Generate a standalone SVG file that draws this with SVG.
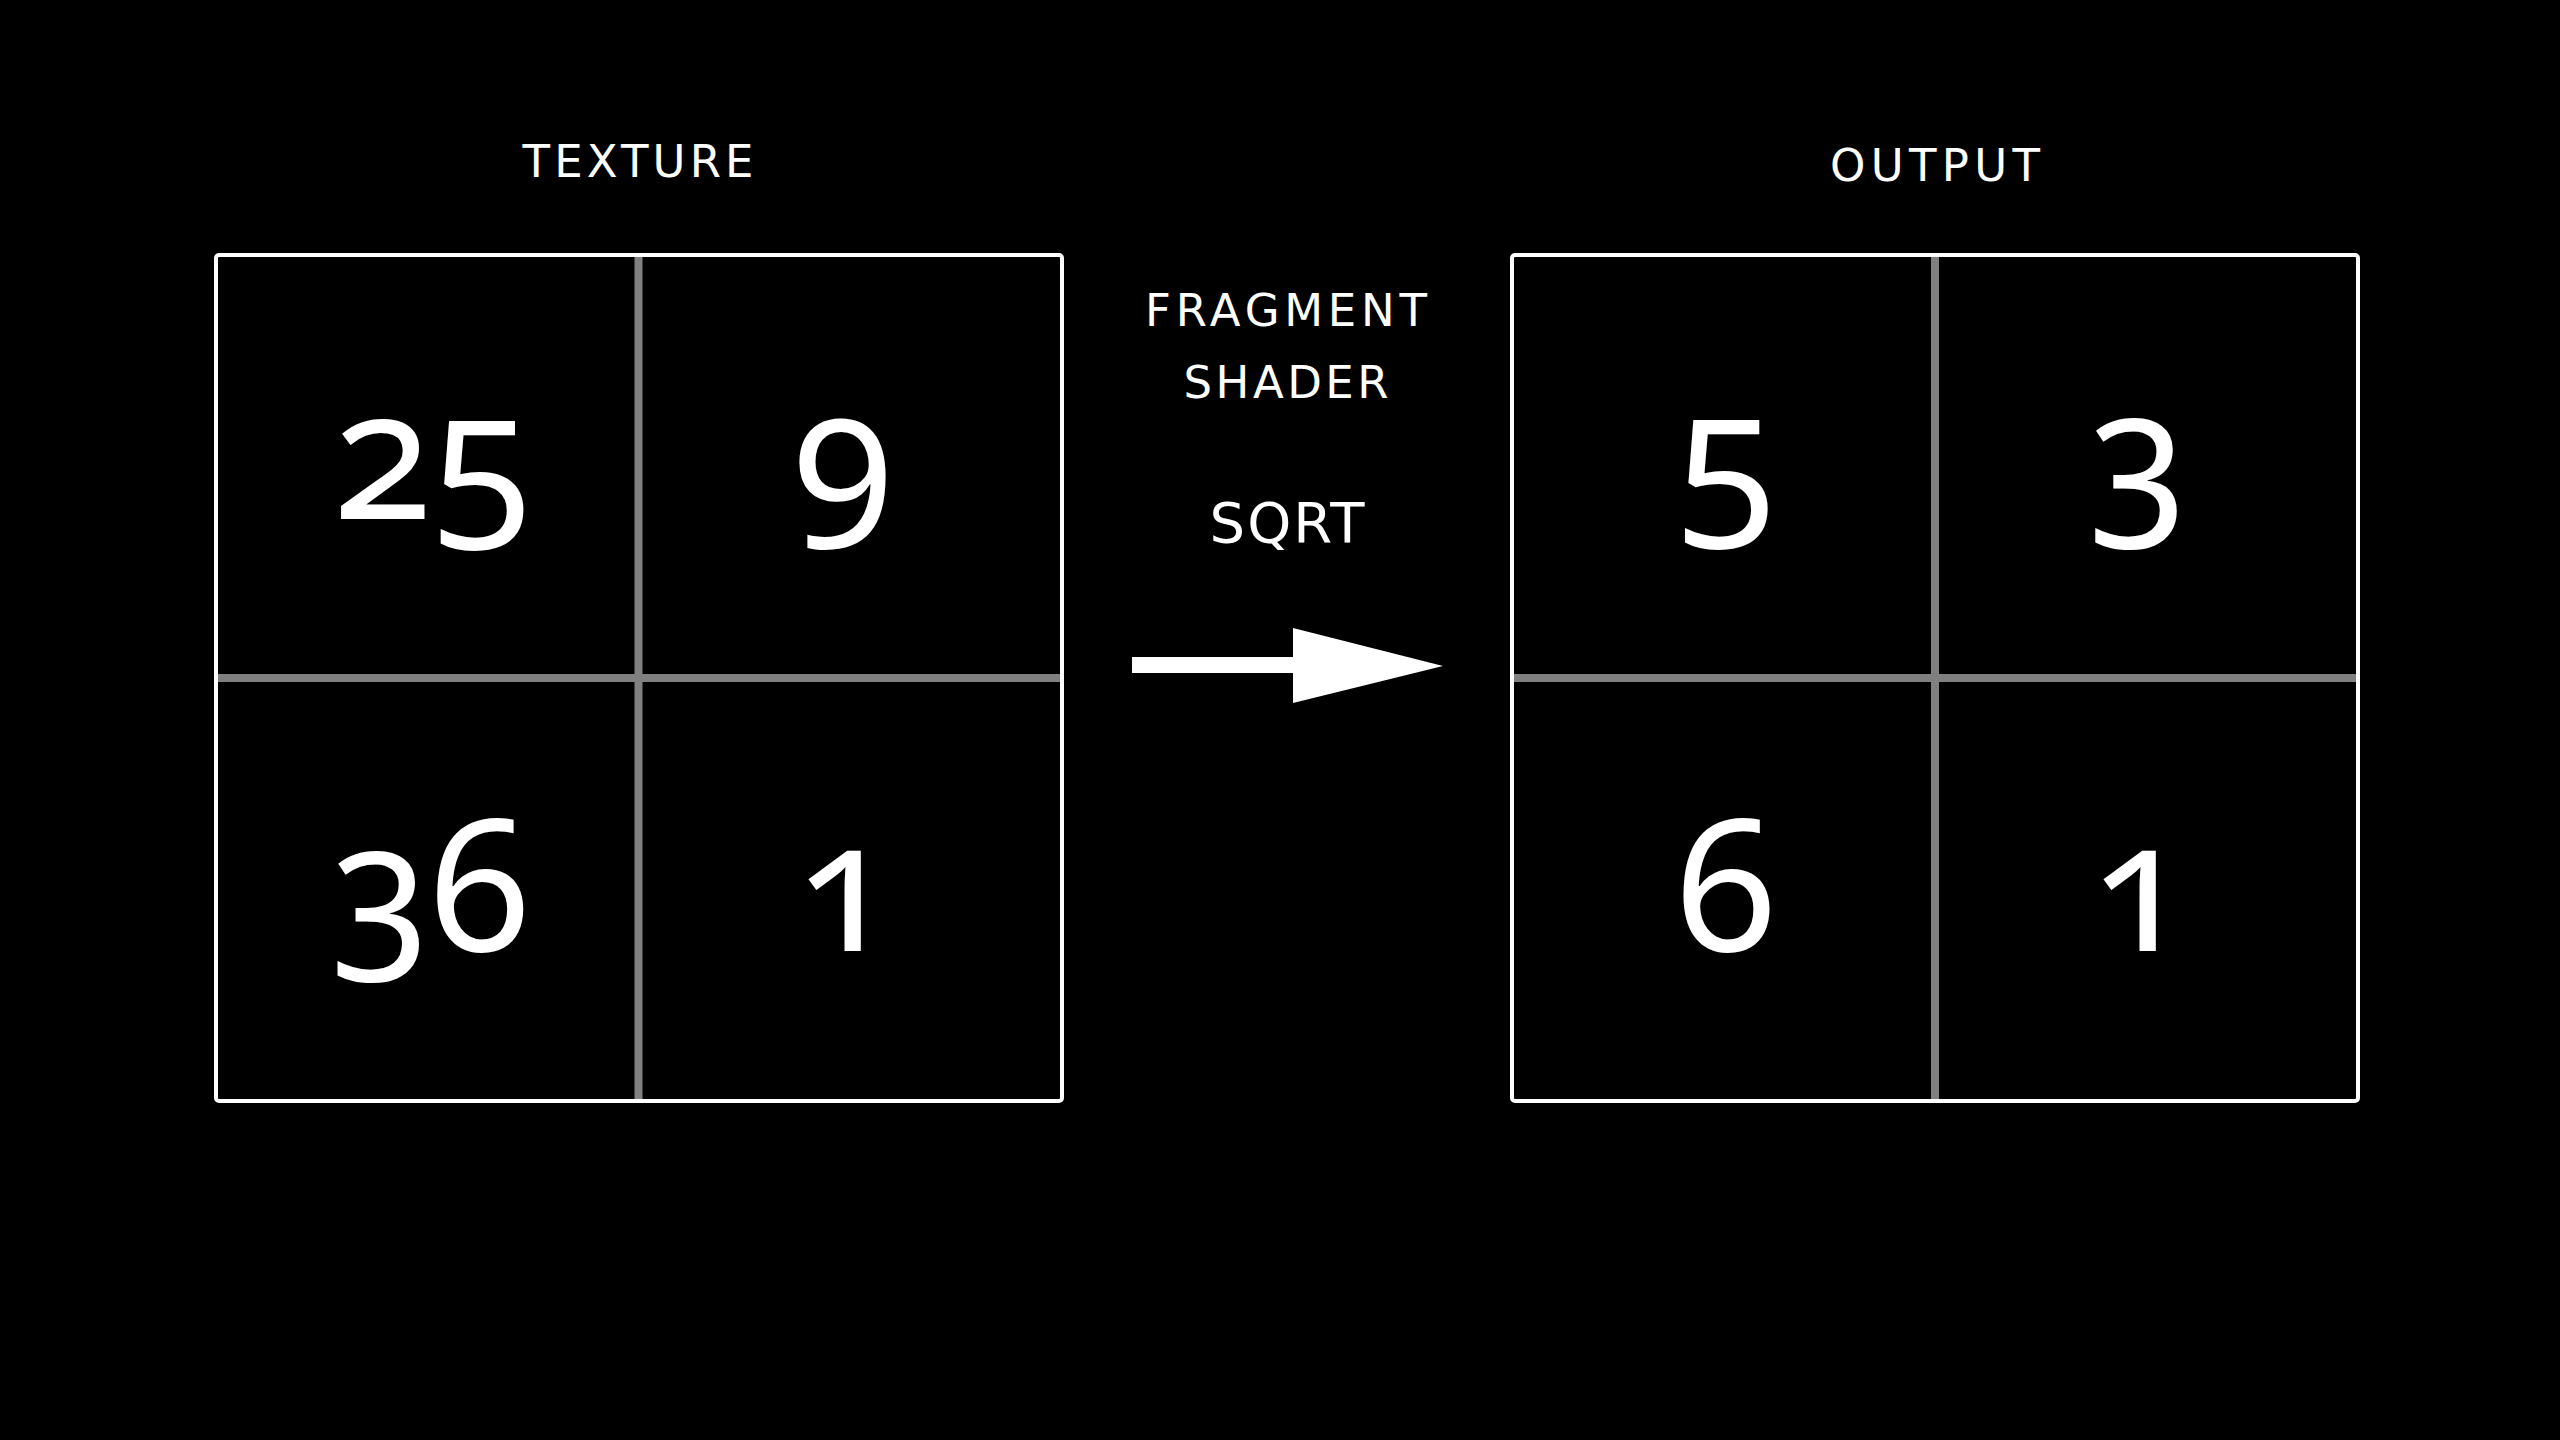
<svg xmlns="http://www.w3.org/2000/svg" width="2560" height="1440" viewBox="0 0 2560 1440">
  <style>
    .frame { fill: none; stroke: #ffffff; stroke-width: 4; }
    .div { stroke: #808080; stroke-width: 8; }
    .label { font-family: "DejaVu Sans", "Open Sans", "Liberation Sans", sans-serif; fill: #ffffff; text-anchor: middle; font-size: 45px; }
    .num { font-family: "Noto Sans", "Open Sans", "DejaVu Sans", sans-serif; fill: #ffffff; text-anchor: middle; font-size: 182px; font-weight: 400; font-variant-numeric: oldstyle-nums; font-feature-settings: "onum" 1; }
  </style>
  <rect x="0" y="0" width="2560" height="1440" fill="#000000"/>

  <g id="texture">
    <text class="label" x="638" y="177" textLength="231" lengthAdjust="spacing">TEXTURE</text>
    <line class="div" x1="638.5" y1="257" x2="638.5" y2="1099"/>
    <line class="div" x1="218" y1="678" x2="1060" y2="678"/>
    <rect class="frame" x="216" y="255" width="846" height="846" rx="3"/>
    <text class="num" x="432" y="519">25</text>
    <text class="num" x="843" y="519">9</text>
    <text class="num" x="430" y="951">36</text>
    <text class="num" x="845" y="951">1</text>
  </g>

  <g id="shader">
    <text class="label" x="1286" y="326" textLength="282" lengthAdjust="spacing">FRAGMENT</text>
    <text class="label" x="1286" y="398" textLength="205" lengthAdjust="spacing">SHADER</text>
    <text class="label" x="1287" y="542" style="font-size:56px" textLength="155" lengthAdjust="spacing">SQRT</text>
  </g>

  <g id="output">
    <text class="label" x="1935" y="181" textLength="210" lengthAdjust="spacing">OUTPUT</text>
    <line class="div" x1="1935" y1="257" x2="1935" y2="1099"/>
    <line class="div" x1="1514" y1="678" x2="2356" y2="678"/>
    <rect class="frame" x="1512" y="255" width="846" height="846" rx="3"/>
    <text class="num" x="1726" y="518">5</text>
    <text class="num" x="2138" y="518">3</text>
    <text class="num" x="1726" y="951">6</text>
    <text class="num" x="2140" y="951">1</text>
  </g>

  <g id="connectors">
    <rect x="1132" y="657" width="162" height="16" fill="#ffffff"/>
    <polygon points="1293,628 1443,666 1293,703" fill="#ffffff"/>
  </g>
</svg>
